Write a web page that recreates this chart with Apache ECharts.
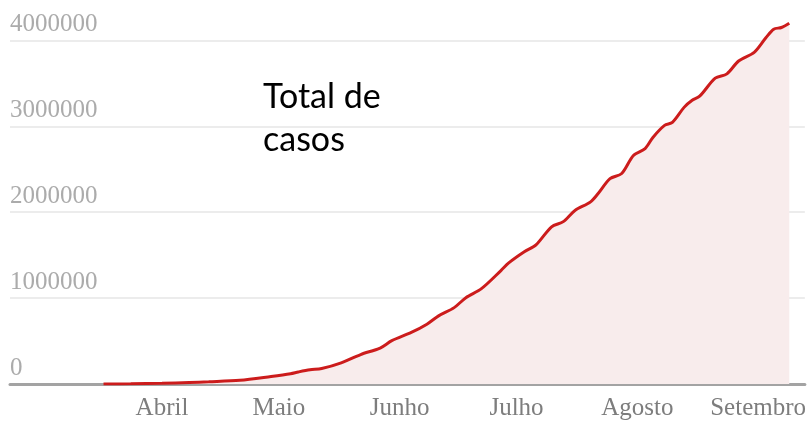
<!DOCTYPE html>
<html>
<head>
<meta charset="utf-8">
<script src="https://cdn.jsdelivr.net/npm/echarts@6/dist/echarts.min.js"></script>
<style>
  html, body { margin: 0; padding: 0; background: #fff; }
  #chart { width: 809px; height: 421px; }
</style>
</head>
<body>
<div id="chart"></div>
<script>
// dias lidos no gráfico e total acumulado de casos
var readDates = [
  '2020-03-17', '2020-03-24', '2020-04-01', '2020-04-08', '2020-04-13', '2020-04-21',
  '2020-04-29', '2020-05-04', '2020-05-06', '2020-05-09', '2020-05-12', '2020-05-17',
  '2020-05-22', '2020-05-27', '2020-05-30', '2020-06-04', '2020-06-08', '2020-06-11',
  '2020-06-15', '2020-06-18', '2020-06-22', '2020-06-27', '2020-06-29', '2020-07-03',
  '2020-07-06', '2020-07-10', '2020-07-13', '2020-07-16', '2020-07-20', '2020-07-22',
  '2020-07-25', '2020-07-28', '2020-07-31', '2020-08-03', '2020-08-05', '2020-08-08',
  '2020-08-10', '2020-08-13', '2020-08-15', '2020-08-17', '2020-08-21', '2020-08-24',
  '2020-08-27', '2020-08-31', '2020-09-03', '2020-09-05', '2020-09-07', '2020-09-09'
];
var totalCases = [
  0, 2500, 8000, 18000, 26000, 43000,
  88000, 120000, 140000, 165000, 180000, 246000,
  343000, 419000, 504000, 600000, 696000, 793000,
  889000, 1005000, 1110000, 1320000, 1410000, 1540000,
  1620000, 1830000, 1890000, 2020000, 2120000, 2220000,
  2390000, 2450000, 2660000, 2740000, 2870000, 3010000,
  3045000, 3220000, 3300000, 3350000, 3560000, 3610000,
  3760000, 3860000, 4030000, 4130000, 4150000, 4200000
];
var axisStart = '2020-02-22';
var axisEnd = '2020-09-13';
var monthLabels = { 4: 'Abril', 5: 'Maio', 6: 'Junho', 7: 'Julho', 8: 'Agosto', 9: 'Setembro' };
var yTicks = [0, 1000000, 2000000, 3000000, 4000000];

// eixo diário
var days = [];
var d = new Date(axisStart + 'T00:00:00Z');
var end = new Date(axisEnd + 'T00:00:00Z');
while (d <= end) {
  days.push(d.toISOString().slice(0, 10));
  d.setUTCDate(d.getUTCDate() + 1);
}

var seriesData = readDates.map(function (dt, i) { return [dt, totalCases[i]]; });

var myChart = echarts.init(document.getElementById('chart'));
var option = {
  animation: false,
  grid: { left: 10, right: 4, top: 6, bottom: 34 },
  xAxis: {
    type: 'category',
    data: days,
    boundaryGap: false,
    axisTick: { show: false },
    axisLine: { lineStyle: { color: '#a3a3a3', width: 3 } },
    axisLabel: {
      margin: 12,
      color: '#7d7d7d',
      fontFamily: 'Liberation Serif',
      fontSize: 25,
      interval: function (idx, val) {
        return val.slice(8) === '01' && monthLabels[+val.slice(5, 7)] !== undefined;
      },
      formatter: function (val) {
        return monthLabels[+val.slice(5, 7)] || '';
      }
    },
    splitLine: { show: false }
  },
  yAxis: {
    type: 'value',
    min: 0,
    max: 4400000,
    interval: 1000000,
    axisLine: { show: false },
    axisTick: { show: false },
    axisLabel: {
      inside: true,
      margin: 0,
      align: 'left',
      verticalAlign: 'bottom',
      padding: [0, 0, 3, 0],
      color: '#ababab',
      fontFamily: 'Liberation Serif',
      fontSize: 25,
      showMaxLabel: false,
      formatter: function (v) { return yTicks.indexOf(v) >= 0 ? String(v) : ''; }
    },
    splitLine: { show: true, showMaxLine: false, lineStyle: { color: '#ececec', width: 2 } }
  },
  series: [{
    type: 'line',
    data: seriesData,
    smooth: 0.3,
    showSymbol: false,
    lineStyle: { color: '#cc1c1c', width: 3 },
    areaStyle: { color: '#f8ecec', opacity: 1 },
    z: 3
  }],
  graphic: [{
    type: 'text',
    left: 263,
    top: 76,
    style: {
      text: 'Total de\ncasos',
      fill: '#000',
      font: '34px Lato',
      lineHeight: 43
    }
  }]
};
myChart.setOption(option);
window.onresize = function () { myChart.resize(); };
</script>
</body>
</html>
